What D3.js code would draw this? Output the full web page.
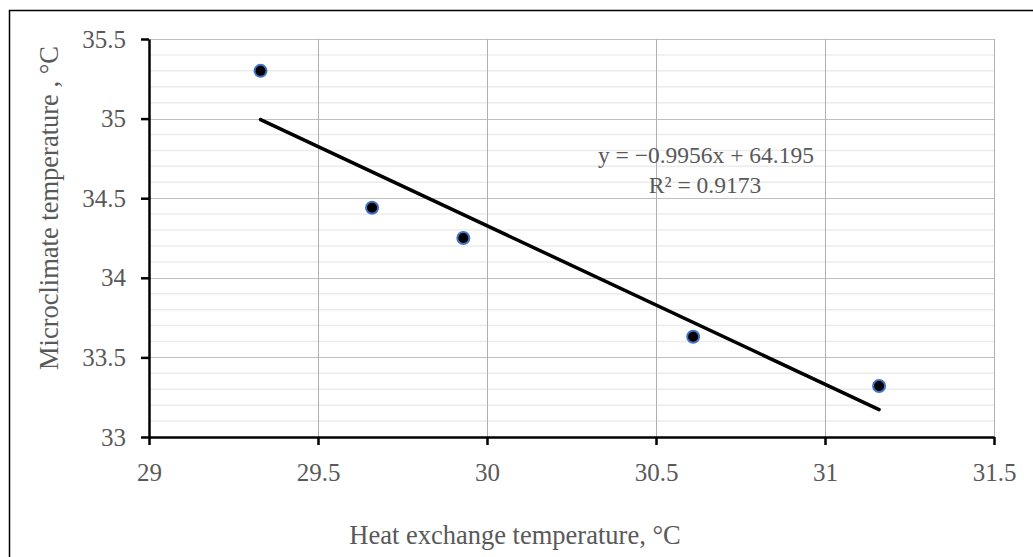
<!DOCTYPE html>
<html><head><meta charset="utf-8">
<script src="https://cdn.jsdelivr.net/npm/d3@7"></script>
<style>html,body{margin:0;padding:0;background:#fff;}svg{display:block;}</style>
</head><body>
<svg id="c" width="1033" height="557"></svg>
<script>
const xValues = [29.33, 29.66, 29.93, 30.61, 31.16];
const yValues = [35.30, 34.44, 34.25, 33.63, 33.32];
const xTicks = [29, 29.5, 30, 30.5, 31, 31.5];
const yTicks = [33, 33.5, 34, 34.5, 35, 35.5];
const slope = -0.9956, intercept = 64.195;
const eqLabel = "y = \u22120.9956x + 64.195";
const r2Label = "R\u00B2 = 0.9173";
const xTitle = "Heat exchange temperature, \u00B0C";
const yTitle = "Microclimate temperature , \u00B0C";

const svg = d3.select("#c");
const font = "'Liberation Serif', 'Times New Roman', serif";
const textColor = "#595959";
const L = 149, R = 994, T = 39, B = 437;
const x = d3.scaleLinear().domain([29, 31.5]).range([L, R]);
const y = d3.scaleLinear().domain([33, 35.5]).range([B, T]);

// outer border
svg.append("rect").attr("x", 9.5).attr("y", 10.5).attr("width", 1040).attr("height", 560)
  .attr("fill", "none").attr("stroke", "#000").attr("stroke-width", 1.5);

// minor gridlines
const minor = d3.range(33.1, 35.5, 0.1).filter(v => Math.abs(v*2 - Math.round(v*2)) > 0.01);
svg.append("g").selectAll("line").data(minor).join("line")
  .attr("x1", L).attr("x2", R).attr("y1", d => y(d)).attr("y2", d => y(d))
  .attr("stroke", "#ececec").attr("stroke-width", 1.5);
// major gridlines
svg.append("g").selectAll("line").data(yTicks.slice(1)).join("line")
  .attr("x1", L).attr("x2", R).attr("y1", d => Math.round(y(d))+0.5).attr("y2", d => Math.round(y(d))+0.5)
  .attr("stroke", "#bfbfbf").attr("stroke-width", 1);
svg.append("g").selectAll("line").data(xTicks.slice(1)).join("line")
  .attr("y1", T).attr("y2", B).attr("x1", d => Math.round(x(d))+0.5).attr("x2", d => Math.round(x(d))+0.5)
  .attr("stroke", "#b0b0b0").attr("stroke-width", 1);

// axes
const xAxis = svg.append("g").attr("transform", `translate(0,${B})`)
  .call(d3.axisBottom(x).tickValues(xTicks).tickSize(8).tickSizeOuter(0).tickPadding(18).tickFormat(d3.format("")));
const yAxis = svg.append("g").attr("transform", `translate(${L},0)`)
  .call(d3.axisLeft(y).tickValues(yTicks).tickSize(8).tickSizeOuter(0).tickPadding(15).tickFormat(d3.format("")));
[xAxis, yAxis].forEach(g => {
  g.select(".domain").attr("stroke", "#000").attr("stroke-width", 2.5);
  g.selectAll(".tick line").attr("stroke", "#000").attr("stroke-width", 2.5);
  g.selectAll(".tick text").attr("fill", textColor).attr("font-family", font).attr("font-size", 25);
});

// trendline
svg.append("line")
  .attr("x1", x(d3.min(xValues))).attr("y1", y(slope*d3.min(xValues)+intercept))
  .attr("x2", x(d3.max(xValues))).attr("y2", y(slope*d3.max(xValues)+intercept))
  .attr("stroke", "#000").attr("stroke-width", 3.5).attr("stroke-linecap", "round");

// points
svg.append("g").selectAll("circle").data(xValues).join("circle")
  .attr("cx", d => x(d)).attr("cy", (d, i) => y(yValues[i])).attr("r", 6)
  .attr("fill", "#000").attr("stroke", "#4472c4").attr("stroke-width", 2);

// equation
svg.append("text").attr("x", 706).attr("y", 163).attr("text-anchor", "middle")
  .attr("font-family", font).attr("font-size", 23.5).attr("fill", textColor).text(eqLabel);
svg.append("text").attr("x", 705).attr("y", 193).attr("text-anchor", "middle")
  .attr("font-family", font).attr("font-size", 23.5).attr("fill", textColor).text(r2Label);

// titles
svg.append("text").attr("x", 515).attr("y", 544).attr("text-anchor", "middle")
  .attr("font-family", font).attr("font-size", 26.5).attr("fill", textColor).text(xTitle);
svg.append("text").attr("transform", "translate(58,208) rotate(-90)").attr("text-anchor", "middle")
  .attr("font-family", font).attr("font-size", 26.5).attr("fill", textColor).text(yTitle);
</script>
</body></html>
